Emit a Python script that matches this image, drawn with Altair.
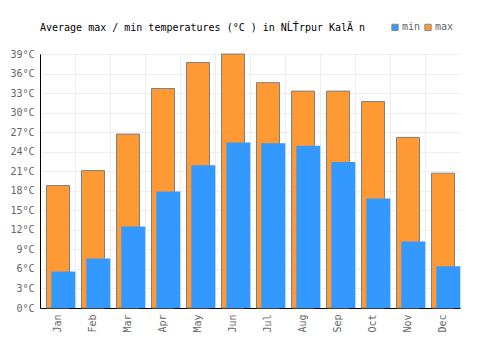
import altair as alt
import pandas as pd

months = ["Jan", "Feb", "Mar", "Apr", "May", "Jun", "Jul", "Aug", "Sep", "Oct", "Nov", "Dec"]
t_max = [18.8, 21.1, 26.7, 33.7, 37.7, 39.0, 34.6, 33.3, 33.3, 31.7, 26.2, 20.7]
t_min = [5.6, 7.6, 12.5, 17.9, 21.9, 25.4, 25.3, 24.9, 22.4, 16.8, 10.2, 6.4]
y_ticks = list(range(0, 40, 3))
title_text = "Average max / min temperatures (°C ) in NĹŤrpur KalÄ n"

df = pd.DataFrame({"month": months, "tmax": t_max, "tmin": t_min})

FONT = "DejaVu Sans Mono"

x_enc = alt.X(
    "month:N",
    sort=months,
    scale=alt.Scale(paddingInner=0, paddingOuter=0),
    axis=alt.Axis(
        title=None, labelAngle=270, labelAlign="right", labelBaseline="middle",
        ticks=False, grid=True, bandPosition=0, gridColor="#eeeeee",
        domainColor="black", labelFont=FONT, labelFontSize=10,
        labelColor="#666666", labelPadding=6,
    ),
)

y_scale = alt.Scale(domain=[0, 39], nice=False, zero=True)
y_axis = alt.Axis(
    title=None, values=y_ticks, labelExpr="datum.value + '°C'", labelOverlap=False,
    tickCount=14, ticks=False, grid=True, gridColor="#eeeeee", domainColor="black",
    labelFont=FONT, labelFontSize=10, labelColor="#666666", labelPadding=6,
)

color_scale = alt.Scale(domain=["min", "max"], range=["#3399ff", "#ff9933"])
legend = alt.Legend(
    title=None, orient="none", legendX=350, legendY=-32, direction="horizontal",
    symbolType="square", symbolSize=40, symbolStrokeColor="#888888",
    symbolStrokeWidth=1, symbolOpacity=1, labelFont=FONT, labelFontSize=10,
    labelColor="#666666", columnPadding=1, labelOffset=2,
)

base = alt.Chart(df)

max_bars = base.transform_calculate(series="'max'").mark_bar(
    width=23, xOffset=0.5, stroke="#808080", strokeWidth=1
).encode(
    x=x_enc,
    y=alt.Y("tmax:Q", scale=y_scale, axis=y_axis),
    color=alt.Color("series:N", scale=color_scale, legend=legend),
)

min_bars = base.transform_calculate(series="'min'").mark_bar(width=24, xOffset=5.8).encode(
    x=x_enc,
    y=alt.Y("tmin:Q", scale=y_scale, axis=y_axis),
    color=alt.Color("series:N", scale=color_scale, legend=legend),
)

chart = alt.layer(max_bars, min_bars).properties(
    width=420,
    height=254,
    title=alt.TitleParams(
        title_text, anchor="start", frame="group", font=FONT, fontSize=10,
        fontWeight="normal", color="black", baseline="alphabetic", offset=0, dy=19,
    ),
    autosize=alt.AutoSizeParams(type="none"),
    padding={"left": 40, "top": 54, "right": 40, "bottom": 42},
).configure_view(stroke=None)

chart.save("out.html", embed_options={"renderer": "svg", "actions": False})
